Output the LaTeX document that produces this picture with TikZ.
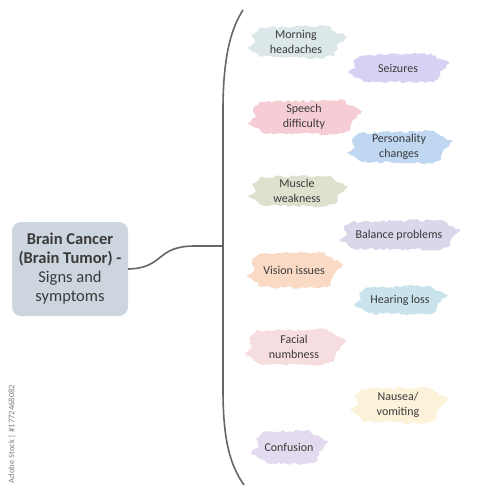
\documentclass[tikz,border=0pt]{standalone}
\usepackage{fontspec}
\setmainfont{Carlito}
\usetikzlibrary{decorations.pathmorphing}
\definecolor{txt}{HTML}{3A3A3A}
\definecolor{hubfill}{HTML}{CDD6DE}
\definecolor{linec}{HTML}{666666}
\definecolor{cA}{HTML}{DCE7E9}
\definecolor{cB}{HTML}{D5D2F3}
\definecolor{cC}{HTML}{F6CDD4}
\definecolor{cD}{HTML}{BFD7F1}
\definecolor{cE}{HTML}{DEE1CD}
\definecolor{cF}{HTML}{DCD6EA}
\definecolor{cG}{HTML}{FADAC4}
\definecolor{cH}{HTML}{C9E3EC}
\definecolor{cI}{HTML}{F6DDE0}
\definecolor{cJ}{HTML}{FCF2DA}
\definecolor{cK}{HTML}{E4DAEF}
\tikzset{
  hub/.style={fill=hubfill, rounded corners=9pt, align=center, text=txt,
    font=\fontsize{16.5}{19}\selectfont, minimum width=116pt, minimum height=94pt, inner sep=1pt},
  symlabel/.style={align=center, text=txt, font=\fontsize{12}{15}\selectfont, inner sep=1pt},
  strokefill/.style={fill=#1, decorate, decoration={random steps, segment length=3pt, amplitude=1.4pt}},
  bracket/.style={draw=linec, line width=1.6pt},
  link/.style={draw=linec, line width=1.6pt}
}
% name, x, y, width, height, colour, text
\newcommand\symp[7]{%
  \fill[strokefill=#6]
    (#2-#4/2+5, #3-#5/2+2) -- (#2+#4/2-10, #3-#5/2) -- (#2+#4/2-4, #3-#5/2+5)
    -- (#2+#4/2+9, #3-#5/6) -- (#2+#4/2-1, #3+#5/8) -- (#2+#4/2-3, #3+#5/2-3)
    -- (#2+#4/2-14, #3+#5/2) -- (#2-#4/2+8, #3+#5/2-1) -- (#2-#4/2+2, #3+#5/3)
    -- (#2-#4/2-7, #3+#5/6) -- (#2-#4/2+1, #3) -- (#2-#4/2-2, #3-#5/4) -- cycle;
  \node[symlabel] (#1) at (#2,#3) {#7};
}
\begin{document}
\begin{tikzpicture}[x=1pt,y=-1pt]
\useasboundingbox (0,0) rectangle (480,500);
\pgfmathsetseed{7}
% bracket
\coordinate (btop) at (243,10);
\coordinate (bbot) at (244,485);
\coordinate (j) at (223,246);
\draw[bracket] (btop) .. controls (230,30) and (223,60) .. (223,110) -- (223,390) .. controls (223,440) and (230,465) .. (bbot);
% hub
\node[hub] (hub) at (70,269) {\textbf{Brain Cancer}\\\textbf{(Brain Tumor) -}\\Signs and\\symptoms};
\draw[link] (hub.east) .. controls (165,268) and (155,246) .. (195,246) -- (j);
% symptoms
\symp{s1}{296}{42}{84}{32}{cA}{Morning\\headaches}
\symp{s2}{398}{68}{86}{29}{cB}{Seizures}
\symp{s3}{304}{117}{98}{34}{cC}{Speech\\difficulty}
\symp{s4}{399}{147}{90}{32}{cD}{Personality\\changes}
\symp{s5}{297}{191}{84}{31}{cE}{Muscle\\weakness}
\symp{s6}{399}{235}{106}{30}{cF}{Balance problems}
\symp{s7}{294}{270}{80}{36}{cG}{Vision issues}
\symp{s8}{400}{300}{78}{29}{cH}{Hearing loss}
\symp{s9}{294}{347}{86}{36}{cI}{Facial\\numbness}
\symp{s10}{398}{405}{82}{36}{cJ}{Nausea/\\vomiting}
\symp{s11}{289}{447}{62}{34}{cK}{Confusion}
% stock id
\node[rotate=90, text=gray, font=\fontsize{8.5}{10}\selectfont] (wm) at (12,434) {Adobe Stock | \#1772468082};
\end{tikzpicture}
\end{document}
